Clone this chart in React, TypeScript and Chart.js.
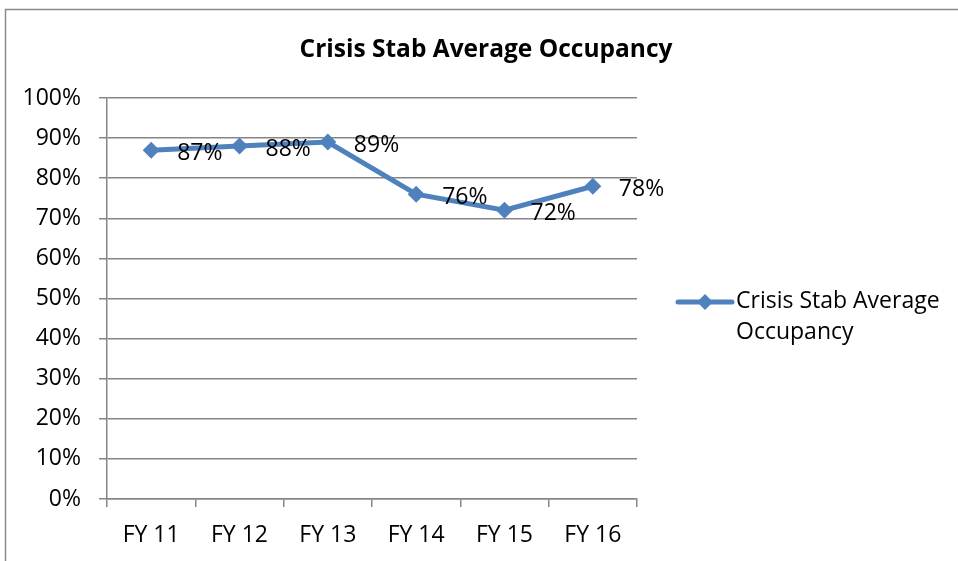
import { useEffect, useRef } from 'react';
import { Chart, registerables } from 'chart.js';

Chart.register(...registerables);

const categories = ['FY 11', 'FY 12', 'FY 13', 'FY 14', 'FY 15', 'FY 16'];
const occupancy = [0.87, 0.88, 0.89, 0.76, 0.72, 0.78];
const dataLabels = ['87%', '88%', '89%', '76%', '72%', '78%'];
const chartTitle = 'Crisis Stab Average Occupancy';
const seriesName = 'Crisis Stab Average Occupancy';
const legendLines = ['Crisis Stab Average', 'Occupancy'];

const LINE_COLOR = '#4F81BD';
const GRID_COLOR = '#868686';
const FONT = '"Open Sans", "DejaVu Sans", sans-serif';
const TEXT_SIZE = 23;

const decorPlugin = {
  id: 'decor',
  beforeDraw(chart: any) {
    const ctx = chart.ctx;
    ctx.save();
    ctx.fillStyle = '#ffffff';
    ctx.fillRect(0, 0, chart.width, chart.height);
    ctx.strokeStyle = '#8a8a8a';
    ctx.lineWidth = 1.5;
    ctx.strokeRect(5.5, 9.5, chart.width + 20, chart.height + 20);
    ctx.restore();
  },
  afterDatasetsDraw(chart: any) {
    const ctx = chart.ctx;
    const meta = chart.getDatasetMeta(0);
    ctx.save();
    ctx.fillStyle = '#000000';
    ctx.font = `${TEXT_SIZE}px ${FONT}`;
    ctx.textAlign = 'left';
    ctx.textBaseline = 'alphabetic';
    meta.data.forEach((pt: any, i: number) => {
      ctx.fillText(dataLabels[i], pt.x + 26, pt.y + 9.5);
    });
    ctx.restore();
  },
  afterDraw(chart: any) {
    const ctx = chart.ctx;
    ctx.save();
    // title
    ctx.fillStyle = '#000000';
    ctx.font = `bold 24.5px ${FONT}`;
    ctx.textAlign = 'center';
    ctx.textBaseline = 'alphabetic';
    ctx.fillText(chartTitle, 486, 57);
    // legend
    const ly = 302;
    ctx.strokeStyle = LINE_COLOR;
    ctx.lineWidth = 5;
    ctx.lineCap = 'round';
    ctx.beginPath();
    ctx.moveTo(678, ly);
    ctx.lineTo(732, ly);
    ctx.stroke();
    ctx.fillStyle = LINE_COLOR;
    ctx.beginPath();
    ctx.moveTo(705, ly - 8);
    ctx.lineTo(713, ly);
    ctx.lineTo(705, ly + 8);
    ctx.lineTo(697, ly);
    ctx.closePath();
    ctx.fill();
    ctx.fillStyle = '#000000';
    ctx.font = `${TEXT_SIZE}px ${FONT}`;
    ctx.textAlign = 'left';
    ctx.fillText(legendLines[0], 736, 308);
    ctx.fillText(legendLines[1], 736, 339);
    ctx.restore();
  },
};

export default function App() {
  const ref = useRef<HTMLCanvasElement>(null);
  useEffect(() => {
    if (!ref.current) return;
    const chart = new Chart(ref.current, {
      type: 'line',
      data: {
        labels: categories,
        datasets: [
          {
            label: seriesName,
            data: occupancy,
            borderColor: LINE_COLOR,
            backgroundColor: LINE_COLOR,
            borderWidth: 5,
            tension: 0,
            pointStyle: 'rectRot',
            pointRadius: 8.5,
            pointBorderWidth: 0,
            pointBackgroundColor: LINE_COLOR,
            pointBorderColor: LINE_COLOR,
          },
        ],
      },
      options: {
        animation: false,
        responsive: true,
        maintainAspectRatio: false,
        layout: { padding: { top: 98, right: 321, left: 0, bottom: 0 } },
        plugins: {
          legend: { display: false },
          title: { display: false },
          tooltip: { enabled: false },
        },
        scales: {
          x: {
            type: 'category',
            offset: true,
            grid: {
              offset: true,
              drawOnChartArea: false,
              drawTicks: true,
              tickLength: 8,
              color: GRID_COLOR,
              lineWidth: 1.5,
            },
            border: { color: GRID_COLOR, width: 1.5 },
            ticks: {
              color: '#000000',
              font: { family: FONT, size: TEXT_SIZE },
              padding: 15,
              maxRotation: 0,
              autoSkip: false,
            },
            afterFit(scale: any) {
              scale.height = 62;
            },
          },
          y: {
            min: 0,
            max: 1,
            grid: {
              color: GRID_COLOR,
              lineWidth: 1.5,
              tickLength: 8,
              drawTicks: true,
            },
            border: { color: GRID_COLOR, width: 1.5 },
            ticks: {
              stepSize: 0.1,
              color: '#000000',
              font: { family: FONT, size: TEXT_SIZE },
              padding: 18,
              callback: (v: any) => `${Math.round(Number(v) * 100)}%`,
            },
            afterFit(scale: any) {
              scale.width = 107;
            },
          },
        },
      },
      plugins: [decorPlugin],
    });
    return () => chart.destroy();
  }, []);
  return (
    <div style={{ position: 'fixed', left: 0, top: 0, width: 958, height: 561 }}>
      <canvas ref={ref} />
    </div>
  );
}
